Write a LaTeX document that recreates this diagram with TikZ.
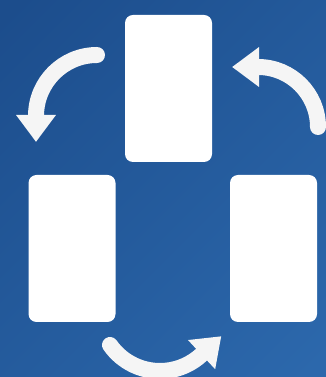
\documentclass[tikz,border=0pt]{standalone}
\usepackage{tikz}
\usetikzlibrary{arrows.meta, positioning}
\usepackage{xcolor}
\definecolor{bgdark}{RGB}{28,77,140}
\definecolor{bglight}{RGB}{44,104,172}
\definecolor{cardwhite}{RGB}{255,255,255}
\definecolor{flowwhite}{RGB}{245,245,245}

\begin{document}
\begin{tikzpicture}[
    x=1pt, y=1pt,
    card/.style={rectangle, rounded corners=8pt, minimum width=87pt, minimum height=147pt, fill=cardwhite, inner sep=0pt},
    flow/.style={-{Triangle[length=27pt, width=38pt]}, line width=16pt, line cap=round, flowwhite},
]

% Background
\useasboundingbox (0,0) rectangle (326,377);
\clip (0,0) rectangle (326,377);
\shade[top color=bgdark, bottom color=bglight, shading angle=45] (-60,-60) rectangle (386,437);

% Cards
\node[card] (topcard) at (168.5,288.5) {};
\node[card] (leftcard) at (72,128.5) {};
\node[card] (rightcard) at (273.5,128.5) {};

% Arrow ends
\coordinate (leftstart) at (97,322);
\coordinate (rightstart) at (318,250);
\coordinate (bottomstart) at (110,32);

% Arrows
\draw[flow] (leftstart) arc[start angle=90, end angle=180, radius=61pt] -- ++(0,-26);
\draw[flow] (rightstart) arc[start angle=0, end angle=90, radius=60pt] -- ++(-26,0);
\draw[flow] (bottomstart) arc[start angle=215, end angle=313, radius=61pt] -- ++(43:27);

\end{tikzpicture}
\end{document}
